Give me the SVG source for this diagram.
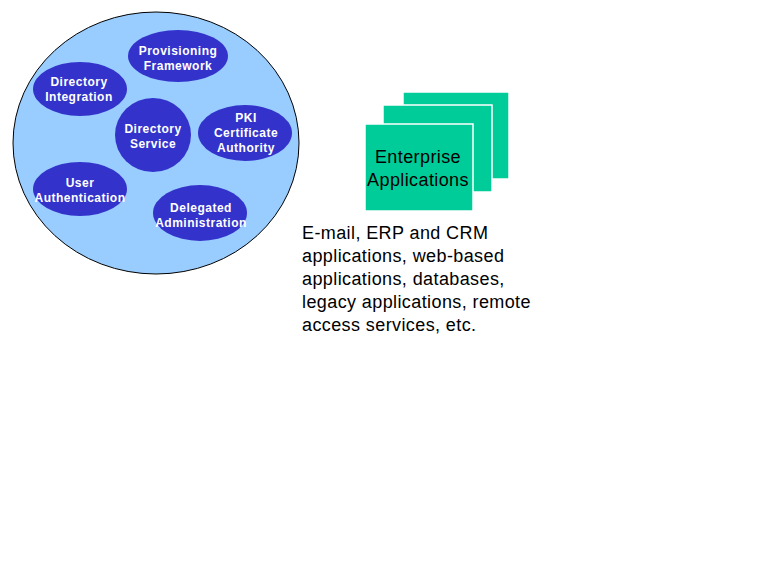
<svg xmlns="http://www.w3.org/2000/svg" width="766" height="566" viewBox="0 0 766 566">
<style>
.e{fill:#3333CC;stroke:none}
.t{font-family:"Liberation Sans",Arial,sans-serif;font-size:12px;font-weight:bold;fill:#FFFFFF;text-anchor:middle;letter-spacing:0.5px}
.g{fill:#00CC99;stroke:#FFFFFF;stroke-width:1.5}
.b{font-family:"Liberation Sans",Arial,sans-serif;font-size:18px;fill:#000000;letter-spacing:0.4px}
</style>
<rect width="766" height="566" fill="#FFFFFF"/>
<g id="idm-circle">
<ellipse cx="156" cy="143" rx="143" ry="131" fill="#99CCFF" stroke="#000000" stroke-width="1"/>
</g>
<g id="provisioning"><ellipse class="e" cx="178" cy="56" rx="50" ry="26"/><text class="t" x="178" y="55">Provisioning</text><text class="t" x="178" y="70">Framework</text></g>
<g id="dir-integration"><ellipse class="e" cx="80" cy="89" rx="47" ry="27"/><text class="t" x="79" y="86">Directory</text><text class="t" x="79" y="101">Integration</text></g>
<g id="dir-service"><ellipse class="e" cx="153" cy="135" rx="38" ry="37"/><text class="t" x="153" y="133">Directory</text><text class="t" x="153" y="148">Service</text></g>
<g id="pki"><ellipse class="e" cx="245" cy="133" rx="47" ry="28"/><text class="t" x="246" y="122">PKI</text><text class="t" x="246" y="137">Certificate</text><text class="t" x="246" y="152">Authority</text></g>
<g id="user-auth"><ellipse class="e" cx="80" cy="189" rx="47" ry="27"/><text class="t" x="80" y="187">User</text><text class="t" x="80" y="202">Authentication</text></g>
<g id="delegated"><ellipse class="e" cx="200" cy="213" rx="47" ry="28"/><text class="t" x="201" y="212">Delegated</text><text class="t" x="201" y="227">Administration</text></g>
<g id="enterprise-apps">
<rect class="g" x="403" y="92" width="106" height="87"/>
<rect class="g" x="383" y="105" width="109" height="87"/>
<rect class="g" x="365" y="124" width="108" height="87"/>
<text class="b" x="418" y="163" text-anchor="middle">Enterprise</text>
<text class="b" x="418" y="186" text-anchor="middle">Applications</text>
</g>
<g id="description">
<text class="b" x="302" y="239">E-mail, ERP and CRM</text>
<text class="b" x="302" y="262">applications, web-based</text>
<text class="b" x="302" y="285">applications, databases,</text>
<text class="b" x="302" y="308">legacy applications, remote</text>
<text class="b" x="302" y="331">access services, etc.</text>
</g>
<g id="connectors"></g>
</svg>
